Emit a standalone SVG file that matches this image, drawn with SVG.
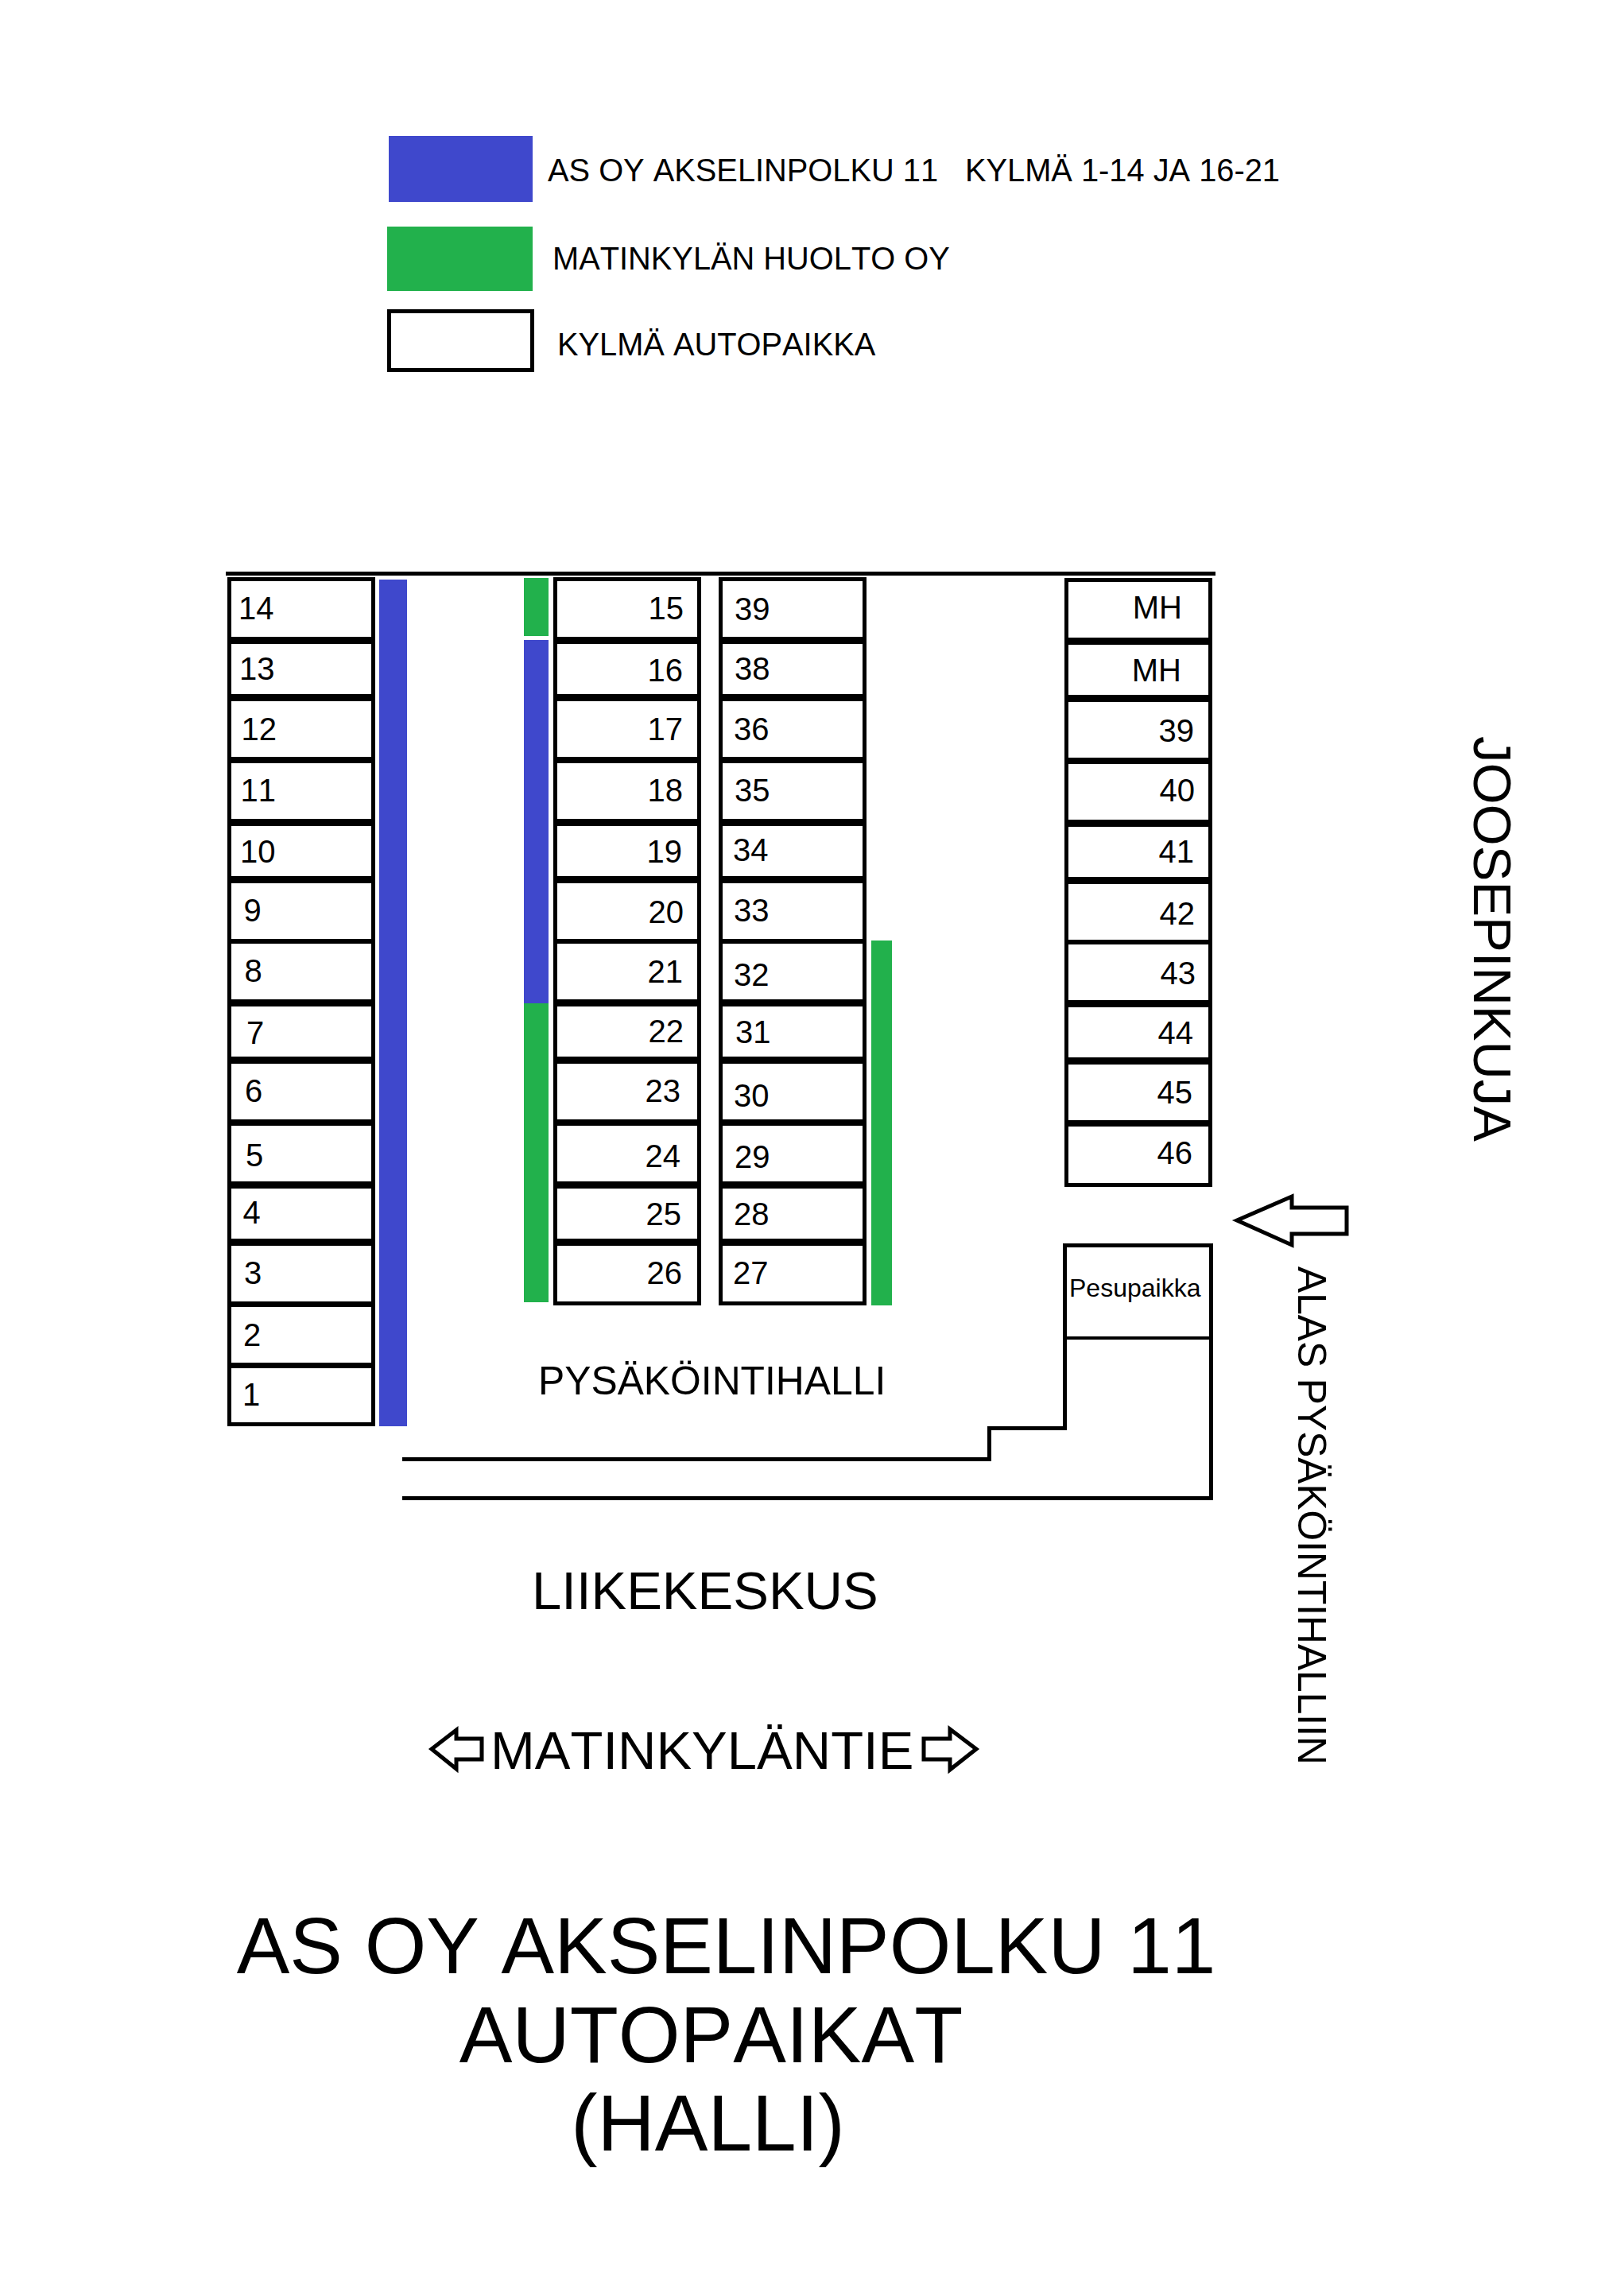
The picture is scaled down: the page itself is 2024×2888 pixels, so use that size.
<svg xmlns="http://www.w3.org/2000/svg" width="2024" height="2888" viewBox="0 0 2024 2888">
<style>
text{font-family:"Liberation Sans",Arial,sans-serif;fill:#000;font-kerning:none}
.stall{fill:none;stroke:#000;stroke-width:5}
.n{font-size:40px}
.l{font-size:39.800px}
.e{text-anchor:end}
.blue{fill:#3f48cc}
.green{fill:#22b14c}
.arrow{fill:#fff;stroke:#000;stroke-width:5;stroke-linejoin:miter}
.mid{text-anchor:middle}
</style>
<rect x="0" y="0" width="2024" height="2888" fill="#fff"/>
<g id="legend">
<rect class="blue" x="489" y="171" width="181" height="83"/>
<rect class="green" x="487" y="285" width="183" height="81"/>
<rect x="489.500" y="391.500" width="180" height="74" fill="none" stroke="#000" stroke-width="5"/>
<text class="l" x="689" y="228">AS OY AKSELINPOLKU 11</text>
<text class="l" x="1214" y="228">KYLMÄ 1-14 JA 16-21</text>
<text class="l" x="695" y="339">MATINKYLÄN HUOLTO OY</text>
<text class="l" x="701" y="447">KYLMÄ AUTOPAIKKA</text>
</g>
<g id="connectors">
<rect x="284" y="719" width="1245" height="5"/>
<path d="M506 1835.500H1244.500V1796.500H1339.500V1566.500H1523.500V1884.500H506" fill="none" stroke="#000" stroke-width="5"/>
<rect x="1340" y="1681" width="183" height="4"/>
</g>
<g id="bars">
<rect class="blue" x="477" y="729" width="35" height="1065"/>
<rect class="green" x="659" y="727" width="31" height="73"/>
<rect class="blue" x="659" y="805" width="31" height="457"/>
<rect class="green" x="659" y="1262" width="31" height="376"/>
<rect class="green" x="1096" y="1183" width="26" height="459"/>
</g>
<g id="s14"><rect class="stall" x="288.500" y="728.500" width="181" height="75"/><text class="n" x="300" y="779">14</text></g>
<g id="s13"><rect class="stall" x="288.500" y="807.500" width="181" height="68"/><text class="n" x="301" y="855">13</text></g>
<g id="s12"><rect class="stall" x="288.500" y="879.500" width="181" height="75"/><text class="n" x="303.500" y="931">12</text></g>
<g id="s11"><rect class="stall" x="288.500" y="957.500" width="181" height="75"/><text class="n" x="302.500" y="1008">11</text></g>
<g id="s10"><rect class="stall" x="288.500" y="1036.500" width="181" height="68"/><text class="n" x="302" y="1085">10</text></g>
<g id="s9"><rect class="stall" x="288.500" y="1108.500" width="181" height="75"/><text class="n" x="306.500" y="1159">9</text></g>
<g id="s8"><rect class="stall" x="288.500" y="1184.500" width="181" height="75"/><text class="n" x="307.500" y="1235">8</text></g>
<g id="s7"><rect class="stall" x="288.500" y="1263.500" width="181" height="68"/><text class="n" x="310" y="1313">7</text></g>
<g id="s6"><rect class="stall" x="288.500" y="1335.500" width="181" height="75"/><text class="n" x="308" y="1386">6</text></g>
<g id="s5"><rect class="stall" x="288.500" y="1413.500" width="181" height="75"/><text class="n" x="309" y="1467">5</text></g>
<g id="s4"><rect class="stall" x="288.500" y="1492.500" width="181" height="68"/><text class="n" x="305.500" y="1539">4</text></g>
<g id="s3"><rect class="stall" x="288.500" y="1564.500" width="181" height="75"/><text class="n" x="307" y="1615">3</text></g>
<g id="s2"><rect class="stall" x="288.500" y="1641.500" width="181" height="75"/><text class="n" x="306" y="1693">2</text></g>
<g id="s1"><rect class="stall" x="288.500" y="1718.500" width="181" height="73"/><text class="n" x="305" y="1768">1</text></g>
<g id="s15"><rect class="stall" x="698.500" y="728.500" width="181" height="75"/><text class="n e" x="860" y="779">15</text></g>
<g id="s16"><rect class="stall" x="698.500" y="807.500" width="181" height="68"/><text class="n e" x="859" y="857">16</text></g>
<g id="s17"><rect class="stall" x="698.500" y="879.500" width="181" height="75"/><text class="n e" x="859" y="931">17</text></g>
<g id="s18"><rect class="stall" x="698.500" y="957.500" width="181" height="75"/><text class="n e" x="859" y="1008">18</text></g>
<g id="s19"><rect class="stall" x="698.500" y="1036.500" width="181" height="68"/><text class="n e" x="858" y="1085">19</text></g>
<g id="s20"><rect class="stall" x="698.500" y="1108.500" width="181" height="75"/><text class="n e" x="860" y="1161">20</text></g>
<g id="s21"><rect class="stall" x="698.500" y="1184.500" width="181" height="75"/><text class="n e" x="859" y="1236">21</text></g>
<g id="s22"><rect class="stall" x="698.500" y="1263.500" width="181" height="68"/><text class="n e" x="860" y="1311">22</text></g>
<g id="s23"><rect class="stall" x="698.500" y="1335.500" width="181" height="75"/><text class="n e" x="856" y="1386">23</text></g>
<g id="s24"><rect class="stall" x="698.500" y="1413.500" width="181" height="75"/><text class="n e" x="856" y="1468">24</text></g>
<g id="s25"><rect class="stall" x="698.500" y="1492.500" width="181" height="68"/><text class="n e" x="857" y="1541">25</text></g>
<g id="s26"><rect class="stall" x="698.500" y="1564.500" width="181" height="75"/><text class="n e" x="858" y="1615">26</text></g>
<g id="s39a"><rect class="stall" x="906.500" y="728.500" width="181" height="75"/><text class="n" x="924" y="780">39</text></g>
<g id="s38"><rect class="stall" x="906.500" y="807.500" width="181" height="68"/><text class="n" x="924" y="855">38</text></g>
<g id="s36"><rect class="stall" x="906.500" y="879.500" width="181" height="75"/><text class="n" x="923" y="931">36</text></g>
<g id="s35"><rect class="stall" x="906.500" y="957.500" width="181" height="75"/><text class="n" x="924" y="1008">35</text></g>
<g id="s34"><rect class="stall" x="906.500" y="1036.500" width="181" height="68"/><text class="n" x="922" y="1083">34</text></g>
<g id="s33"><rect class="stall" x="906.500" y="1108.500" width="181" height="75"/><text class="n" x="923" y="1159">33</text></g>
<g id="s32"><rect class="stall" x="906.500" y="1184.500" width="181" height="75"/><text class="n" x="923" y="1240">32</text></g>
<g id="s31"><rect class="stall" x="906.500" y="1263.500" width="181" height="68"/><text class="n" x="925" y="1312">31</text></g>
<g id="s30"><rect class="stall" x="906.500" y="1335.500" width="181" height="75"/><text class="n" x="923" y="1392">30</text></g>
<g id="s29"><rect class="stall" x="906.500" y="1413.500" width="181" height="75"/><text class="n" x="924" y="1469">29</text></g>
<g id="s28"><rect class="stall" x="906.500" y="1492.500" width="181" height="68"/><text class="n" x="923" y="1541">28</text></g>
<g id="s27"><rect class="stall" x="906.500" y="1564.500" width="181" height="75"/><text class="n" x="922" y="1615">27</text></g>
<g id="sMHa"><rect class="stall" x="1341.500" y="729.500" width="181" height="75"/><text class="n e" x="1487" y="778">MH</text></g>
<g id="sMHb"><rect class="stall" x="1341.500" y="808.500" width="181" height="68"/><text class="n e" x="1486" y="857">MH</text></g>
<g id="s39b"><rect class="stall" x="1341.500" y="880.500" width="181" height="75"/><text class="n e" x="1502" y="933">39</text></g>
<g id="s40"><rect class="stall" x="1341.500" y="958.500" width="181" height="75"/><text class="n e" x="1503" y="1008">40</text></g>
<g id="s41"><rect class="stall" x="1341.500" y="1037.500" width="181" height="68"/><text class="n e" x="1502" y="1085">41</text></g>
<g id="s42"><rect class="stall" x="1341.500" y="1109.500" width="181" height="75"/><text class="n e" x="1503" y="1163">42</text></g>
<g id="s43"><rect class="stall" x="1341.500" y="1185.500" width="181" height="75"/><text class="n e" x="1504" y="1238">43</text></g>
<g id="s44"><rect class="stall" x="1341.500" y="1264.500" width="181" height="68"/><text class="n e" x="1501" y="1313">44</text></g>
<g id="s45"><rect class="stall" x="1341.500" y="1336.500" width="181" height="75"/><text class="n e" x="1500" y="1388">45</text></g>
<g id="s46"><rect class="stall" x="1341.500" y="1414.500" width="181" height="76"/><text class="n e" x="1500" y="1464">46</text></g>
<g id="pesupaikka"><text x="1345" y="1631" font-size="32">Pesupaikka</text></g>
<g id="labels">
<text x="677" y="1754" font-size="49.800">PYSÄKÖINTIHALLI</text>
<text x="669" y="2024" font-size="67">LIIKEKESKUS</text>
<text x="617" y="2225" font-size="67">MATINKYLÄNTIE</text>
<text transform="translate(1854 926) rotate(90)" x="0" y="0" font-size="67">JOOSEPINKUJA</text>
<text transform="translate(1633 1593) rotate(90)" x="0" y="0" font-size="49.700">ALAS PYSÄKÖINTIHALLIIN</text>
<text class="mid" x="913.500" y="2482" font-size="99.800">AS OY AKSELINPOLKU 11</text>
<text class="mid" x="894.500" y="2594" font-size="100">AUTOPAIKAT</text>
<text class="mid" x="890.500" y="2705" font-size="100">(HALLI)</text>
</g>
<g id="arrows">
<polygon class="arrow" points="1556,1535 1625,1505 1625,1519 1694,1519 1694,1552 1625,1552 1625,1566"/>
<polygon class="arrow" points="543,2200 574,2176 574,2187 606,2187 606,2213 574,2213 574,2225"/>
<polygon class="arrow" points="1228,2200 1195,2175 1195,2187 1162,2187 1162,2213 1195,2213 1195,2226"/>
</g>
</svg>
